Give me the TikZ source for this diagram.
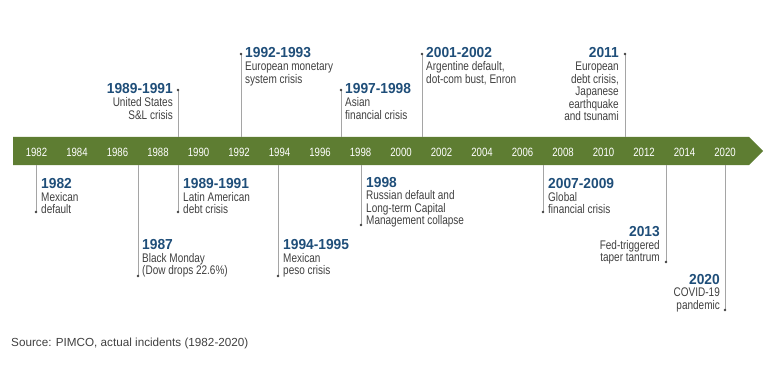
\documentclass[tikz,border=0pt]{standalone}
\usepackage{fontspec}
\setmainfont{Liberation Sans}
\newfontfamily\narrowfont[FakeStretch=0.8]{Liberation Sans}
\newfontfamily\titlefont[FakeStretch=0.95]{Liberation Sans}
\usepackage{tikz}
\usetikzlibrary{positioning,calc}
\definecolor{bargreen}{RGB}{94,125,50}
\definecolor{crisisblue}{RGB}{31,78,121}
\definecolor{textgray}{RGB}{64,64,64}
\definecolor{stemgray}{RGB}{165,165,165}
\tikzset{
  year-label/.style={text=white, font=\narrowfont\fontsize{12}{12}\selectfont, inner sep=0pt},
  event-title/.style={text=crisisblue, font=\titlefont\bfseries\fontsize{14.5}{15}\selectfont, inner sep=0pt},
  event-text/.style={text=textgray, font=\narrowfont\fontsize{12.5}{12.5}\selectfont,
    inner sep=0pt, align=left},
  event-text-r/.style={event-text, align=right},
  stem-line/.style={draw=stemgray, line width=0.8pt},
  dot-mark/.style={fill=textgray},
  source-text/.style={text=textgray, font=\fontsize{11.7}{12}\selectfont, inner sep=0pt}
}

\begin{document}
\begin{tikzpicture}[x=1pt, y=-1pt]
\useasboundingbox (0,0) rectangle (775,366);

% Timeline bar
\fill[bargreen] (13,137) -- (749,137) -- (763,151) -- (749,165) -- (13,165) -- cycle;
\coordinate (bartop) at (0,137);
\coordinate (barbot) at (0,165);

% Years on the bar
\foreach \yr [count=\i from 0] in {1982,1984,1986,1988,1990,1992,1994,1996,1998,2000,2002,2004,2006,2008,2010,2012,2014,2020}
{
  \node[year-label] (y\yr) at (36.5+40.5*\i, 152) {\yr};
}

% Events above the bar
\coordinate (e8991us) at (178,90);
\node[event-title, anchor=base east] (t8991us) at (173,94) {1989-1991};
\node[event-text-r, below=3.4pt of t8991us.south east, anchor=north east] (x8991us) {United States\\S\&L crisis};

\coordinate (e9293) at (241,54);
\node[event-title, anchor=base west] (t9293) at (245,58) {1992-1993};
\node[event-text, below=3.4pt of t9293.south west, anchor=north west] (x9293) {European monetary\\system crisis};

\coordinate (e9798) at (341,90);
\node[event-title, anchor=base west] (t9798) at (345,94) {1997-1998};
\node[event-text, below=3.4pt of t9798.south west, anchor=north west] (x9798) {Asian\\financial crisis};

\coordinate (e0102) at (422,54);
\node[event-title, anchor=base west] (t0102) at (426,58) {2001-2002};
\node[event-text, below=3.4pt of t0102.south west, anchor=north west] (x0102) {Argentine default,\\dot-com bust, Enron};

\coordinate (e2011) at (625,54);
\node[event-title, anchor=base east] (t2011) at (619,58) {2011};
\node[event-text-r, below=3.4pt of t2011.south east, anchor=north east] (x2011)
  {European\\debt crisis,\\Japanese\\earthquake\\and tsunami};

% Events below the bar
\coordinate (e1982) at (36,212);
\node[event-title, anchor=base west] (t1982) at (41,188) {1982};
\node[event-text, below=3.4pt of t1982.south west, anchor=north west] (x1982) {Mexican\\default};

\coordinate (e1987) at (138,276);
\node[event-title, anchor=base west] (t1987) at (142,249) {1987};
\node[event-text, below=3.4pt of t1987.south west, anchor=north west] (x1987) {Black Monday\\(Dow drops 22.6\%)};

\coordinate (e8991la) at (178,212);
\node[event-title, anchor=base west] (t8991la) at (183,188) {1989-1991};
\node[event-text, below=3.4pt of t8991la.south west, anchor=north west] (x8991la) {Latin American\\debt crisis};

\coordinate (e9495) at (278,276);
\node[event-title, anchor=base west] (t9495) at (283,249) {1994-1995};
\node[event-text, below=3.4pt of t9495.south west, anchor=north west] (x9495) {Mexican\\peso crisis};

\coordinate (e1998) at (361,225);
\node[event-title, anchor=base west] (t1998) at (366,187) {1998};
\node[event-text, below=3.4pt of t1998.south west, anchor=north west] (x1998)
  {Russian default and\\Long-term Capital\\Management collapse};

\coordinate (e0709) at (543,212);
\node[event-title, anchor=base west] (t0709) at (548,188) {2007-2009};
\node[event-text, below=3.4pt of t0709.south west, anchor=north west] (x0709) {Global\\financial crisis};

\coordinate (e2013) at (666,262);
\node[event-title, anchor=base east] (t2013) at (660,236) {2013};
\node[event-text-r, below=3.4pt of t2013.south east, anchor=north east] (x2013) {Fed-triggered\\taper tantrum};

\coordinate (e2020) at (725,310);
\node[event-title, anchor=base east] (t2020) at (720,284) {2020};
\node[event-text-r, below=3.4pt of t2020.south east, anchor=north east] (x2020) {COVID-19\\pandemic};

% Stems from the bar to each event
\foreach \ev/\side in {e8991us/bartop, e9293/bartop, e9798/bartop, e0102/bartop, e2011/bartop,
  e1982/barbot, e1987/barbot, e8991la/barbot, e9495/barbot, e1998/barbot, e0709/barbot,
  e2013/barbot, e2020/barbot}
{
  \draw[stem-line] (\ev) -- (\ev |- \side);
  \fill[dot-mark] (\ev) circle (1.3pt);
}

% Source
\node[source-text, anchor=west] (source) at (11,343) {Source: PIMCO, actual incidents (1982-2020)};
\end{tikzpicture}
\end{document}
